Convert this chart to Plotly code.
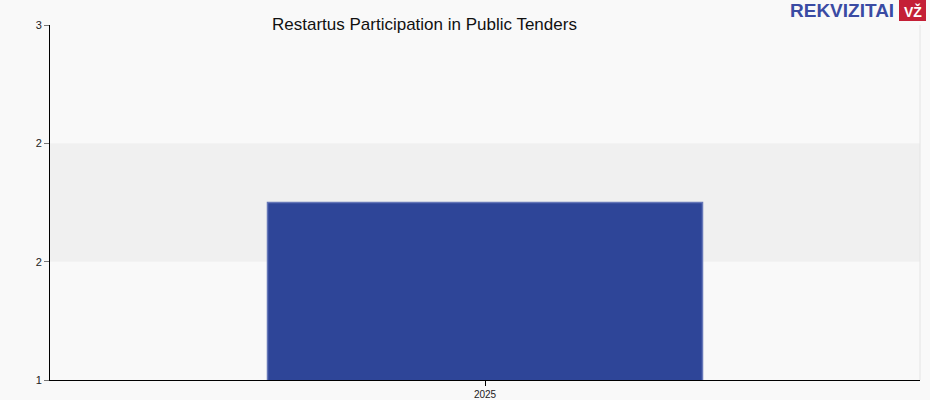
import plotly.graph_objects as go

categories = ["2025"]
values = [1.75]
tick_vals = [1, 1.5, 2, 2.5]
tick_text = ["1", "2", "2", "3"]
title_text = "Restartus Participation in Public Tenders"

L, R, T, B, W, H = 50, 10, 25, 20, 930, 400
PW, PH = W - L - R, H - T - B


def px(x):
    return (x - L) / PW


def py(y):
    return 1 - (y - T) / PH


fig = go.Figure()
fig.add_trace(go.Bar(
    x=categories, y=values, width=0.5,
    marker=dict(color="#2e4598", line=dict(color="#6677b8", width=1.5)),
    hoverinfo="skip",
))

fig.add_shape(type="rect", xref="paper", yref="y", x0=0, x1=1, y0=1.5, y1=2,
              fillcolor="#f0f0f0", line_width=0, layer="below")
fig.add_shape(type="line", xref="paper", yref="paper", x0=1, x1=1, y0=0, y1=1,
              line=dict(color="#e4e4e4", width=1))

fig.add_annotation(text=title_text, xref="paper", yref="paper", x=px(424), y=py(24),
                   xanchor="center", yanchor="middle", showarrow=False,
                   font=dict(family="Liberation Sans, Arial", size=17, color="#111"))
# logo
fig.add_annotation(text="<b>REKVIZITAI</b>", xref="paper", yref="paper",
                   x=px(896), y=py(10), xanchor="right", yanchor="middle",
                   showarrow=False,
                   font=dict(family="Liberation Sans, Arial", size=19, color="#3a4ba3"))
fig.add_shape(type="rect", xref="paper", yref="paper", x0=px(899), x1=px(926),
              y0=py(21), y1=py(0), fillcolor="#c41f36", line_width=0)
fig.add_annotation(text="<b>VŽ</b>", xref="paper", yref="paper",
                   x=px(912.5), y=py(11), xanchor="center", yanchor="middle",
                   showarrow=False,
                   font=dict(family="Liberation Sans", size=14, color="white"))

fig.update_layout(
    width=W, height=H,
    margin=dict(l=L, r=R, t=T, b=B, autoexpand=False),
    paper_bgcolor="#f9f9f9", plot_bgcolor="#f9f9f9",
    showlegend=False,
    font=dict(family="Liberation Sans, Arial", size=11, color="#222"),
)
fig.update_xaxes(showline=True, linecolor="#000", linewidth=1,
                 ticks="outside", ticklen=5, tickcolor="#000",
                 showgrid=False, tickfont=dict(size=10), automargin=False)
fig.update_yaxes(range=[1, 2.5], tickvals=tick_vals, ticktext=tick_text,
                 showline=True, linecolor="#000", linewidth=1,
                 ticks="outside", ticklen=5, tickcolor="#777",
                 showgrid=False, zeroline=False, tickfont=dict(size=11),
                 automargin=False)

fig.write_html("out.html", config={"displayModeBar": False},
               post_script="document.body.style.margin='0px';"
                           "document.body.style.overflow='hidden';")
